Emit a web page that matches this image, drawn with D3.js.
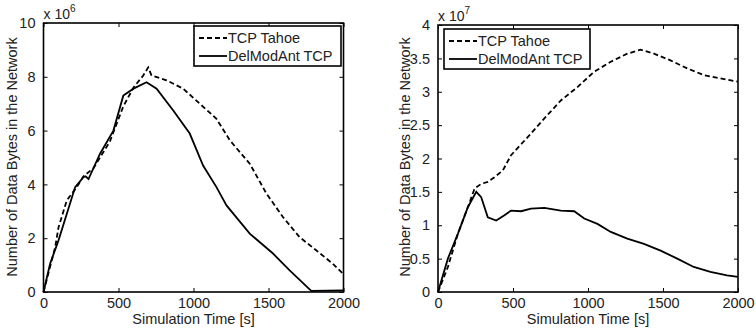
<!DOCTYPE html>
<html>
<head>
<meta charset="utf-8">
<script src="https://cdn.jsdelivr.net/npm/d3@7"></script>
<style>
  body { margin: 0; background: #fff; }
  svg { display: block; font-family: "Liberation Sans", Arial, sans-serif; }
</style>
</head>
<body>
<svg id="chart"></svg>
<script>
const width = 756;
const height = 333;

// left panel (values in units of 1e6 bytes)
const leftTahoeT = [0, 78, 100, 155, 222, 266, 333, 443, 532, 600, 665, 698, 720, 820, 931, 1042, 1153, 1242, 1375, 1486, 1596, 1707, 1818, 1929, 1996];
const leftTahoeV = [0, 1.67, 2.4, 3.4, 3.9, 4.3, 4.6, 5.6, 6.9, 7.6, 8.05, 8.35, 8.05, 7.87, 7.56, 7.0, 6.44, 5.64, 4.77, 3.66, 2.79, 2.04, 1.55, 1.05, 0.68];
const leftDelT = [0, 44, 100, 155, 211, 266, 280, 300, 377, 466, 532, 600, 687, 754, 865, 975, 1064, 1153, 1220, 1375, 1530, 1641, 1785, 2000];
const leftDelV = [0, 1.05, 1.92, 2.9, 3.9, 4.27, 4.3, 4.2, 5.14, 6.0, 7.3, 7.56, 7.8, 7.56, 6.75, 5.89, 4.7, 3.9, 3.22, 2.17, 1.43, 0.8, 0.04, 0.06];

// right panel (values in units of 1e7 bytes)
const rightTahoeT = [0, 66, 133, 199, 244, 288, 332, 377, 432, 487, 598, 709, 819, 930, 1041, 1152, 1262, 1351, 1440, 1550, 1661, 1772, 1882, 2000];
const rightTahoeV = [0, 0.375, 0.875, 1.27, 1.55, 1.62, 1.65, 1.72, 1.82, 2.05, 2.32, 2.6, 2.87, 3.07, 3.3, 3.45, 3.57, 3.63, 3.57, 3.47, 3.35, 3.25, 3.2, 3.15];
const rightDelT = [0, 66, 133, 199, 255, 288, 332, 388, 443, 487, 554, 620, 709, 819, 908, 975, 1063, 1152, 1262, 1373, 1484, 1595, 1705, 1816, 1927, 2000];
const rightDelV = [0, 0.5, 0.875, 1.27, 1.5, 1.42, 1.12, 1.07, 1.15, 1.22, 1.21, 1.25, 1.26, 1.22, 1.21, 1.1, 1.02, 0.9, 0.8, 0.72, 0.62, 0.5, 0.375, 0.3, 0.25, 0.225];

const xTicks = [0, 500, 1000, 1500, 2000];
const leftYTicks = [0, 2, 4, 6, 8, 10];
const rightYTicks = [0, 0.5, 1, 1.5, 2, 2.5, 3, 3.5, 4];
const seriesNames = ["TCP Tahoe", "DelModAnt TCP"];

const svg = d3.select("#chart")
    .attr("width", width)
    .attr("height", height)
    .attr("viewBox", [0, 0, width, height]);

function zip(t, v) { return t.map((d, i) => ({ t: d, v: v[i] })); }

function panel(opts) {
    const x = d3.scaleLinear().domain([0, 2000]).range([opts.x0, opts.x1]);
    const y = d3.scaleLinear().domain([0, opts.yMax]).range([292, opts.top]);
    const g = svg.append("g");

    // data lines
    const line = d3.line().x(d => x(d.t)).y(d => y(d.v));
    g.append("path")
        .datum(zip(opts.tahoeT, opts.tahoeV))
        .attr("d", line)
        .attr("fill", "none").attr("stroke", "#000")
        .attr("stroke-width", 1.8)
        .attr("stroke-dasharray", "5,3");
    g.append("path")
        .datum(zip(opts.delT, opts.delV))
        .attr("d", line)
        .attr("fill", "none").attr("stroke", "#000")
        .attr("stroke-width", 1.8);

    // axes (inward ticks on all four sides, MATLAB style)
    const fmt = d => String(d);
    const ax = g.append("g");
    ax.append("g").attr("transform", `translate(0,292)`)
        .call(d3.axisBottom(x).tickValues(xTicks).tickSize(-4).tickPadding(6).tickFormat(fmt));
    ax.append("g").attr("transform", `translate(0,${opts.top})`)
        .call(d3.axisTop(x).tickValues(xTicks).tickSize(-4).tickFormat(""));
    ax.append("g").attr("transform", `translate(${opts.x0},0)`)
        .call(d3.axisLeft(y).tickValues(opts.yTicks).tickSize(-4).tickPadding(8).tickFormat(fmt));
    ax.append("g").attr("transform", `translate(${opts.x1},0)`)
        .call(d3.axisRight(y).tickValues(opts.yTicks).tickSize(-4).tickFormat(""));
    ax.selectAll(".domain").remove();
    ax.selectAll("line").attr("stroke", "#000").attr("stroke-width", 1);
    ax.selectAll("text")
        .attr("fill", "#222")
        .attr("font-size", 14.5)
        .attr("font-family", "Liberation Sans, Arial, sans-serif");

    g.append("rect")
        .attr("x", opts.x0).attr("y", opts.top)
        .attr("width", opts.x1 - opts.x0).attr("height", 292 - opts.top)
        .attr("fill", "none").attr("stroke", "#000").attr("stroke-width", 1.6);

    // exponent label
    const ex = g.append("text").attr("x", opts.x0).attr("y", opts.top - 4)
        .attr("font-size", 14).attr("fill", "#222");
    ex.append("tspan").text("x 10");
    ex.append("tspan").attr("dy", -7).attr("font-size", 10).text(opts.exp);

    // axis titles
    g.append("text")
        .attr("x", (opts.x0 + opts.x1) / 2).attr("y", 324)
        .attr("text-anchor", "middle").attr("font-size", 14.5).attr("fill", "#222")
        .text("Simulation Time [s]");
    g.append("text")
        .attr("transform", `translate(${opts.ylabX},157) rotate(-90)`)
        .attr("text-anchor", "middle").attr("font-size", 14.5).attr("fill", "#222")
        .text("Number of Data Bytes in the Network");

    // legend
    const L = opts.legend;
    const lg = g.append("g");
    lg.append("rect").attr("x", L.x).attr("y", L.y).attr("width", L.w).attr("height", 40)
        .attr("fill", "#fff").attr("stroke", "#000").attr("stroke-width", 1.6);
    seriesNames.forEach((name, i) => {
        const cy = L.y + 12 + i * 18;
        lg.append("line")
            .attr("x1", L.x + 5).attr("x2", L.x + 33).attr("y1", cy).attr("y2", cy)
            .attr("stroke", "#000").attr("stroke-width", 1.8)
            .attr("stroke-dasharray", i === 0 ? "5,3" : null);
        lg.append("text").attr("x", L.x + 34).attr("y", cy + 5)
            .attr("font-size", 14.5).attr("fill", "#222").text(name);
    });
}

panel({
    x0: 43.5, x1: 343.5, top: 23, yMax: 10, yTicks: leftYTicks, exp: "6", ylabX: 17,
    tahoeT: leftTahoeT, tahoeV: leftTahoeV, delT: leftDelT, delV: leftDelV,
    legend: { x: 194, y: 26, w: 147 }
});
panel({
    x0: 438, x1: 738, top: 25, yMax: 4, yTicks: rightYTicks, exp: "7", ylabX: 410,
    tahoeT: rightTahoeT, tahoeV: rightTahoeV, delT: rightDelT, delV: rightDelV,
    legend: { x: 444, y: 29, w: 146 }
});
</script>
</body>
</html>
